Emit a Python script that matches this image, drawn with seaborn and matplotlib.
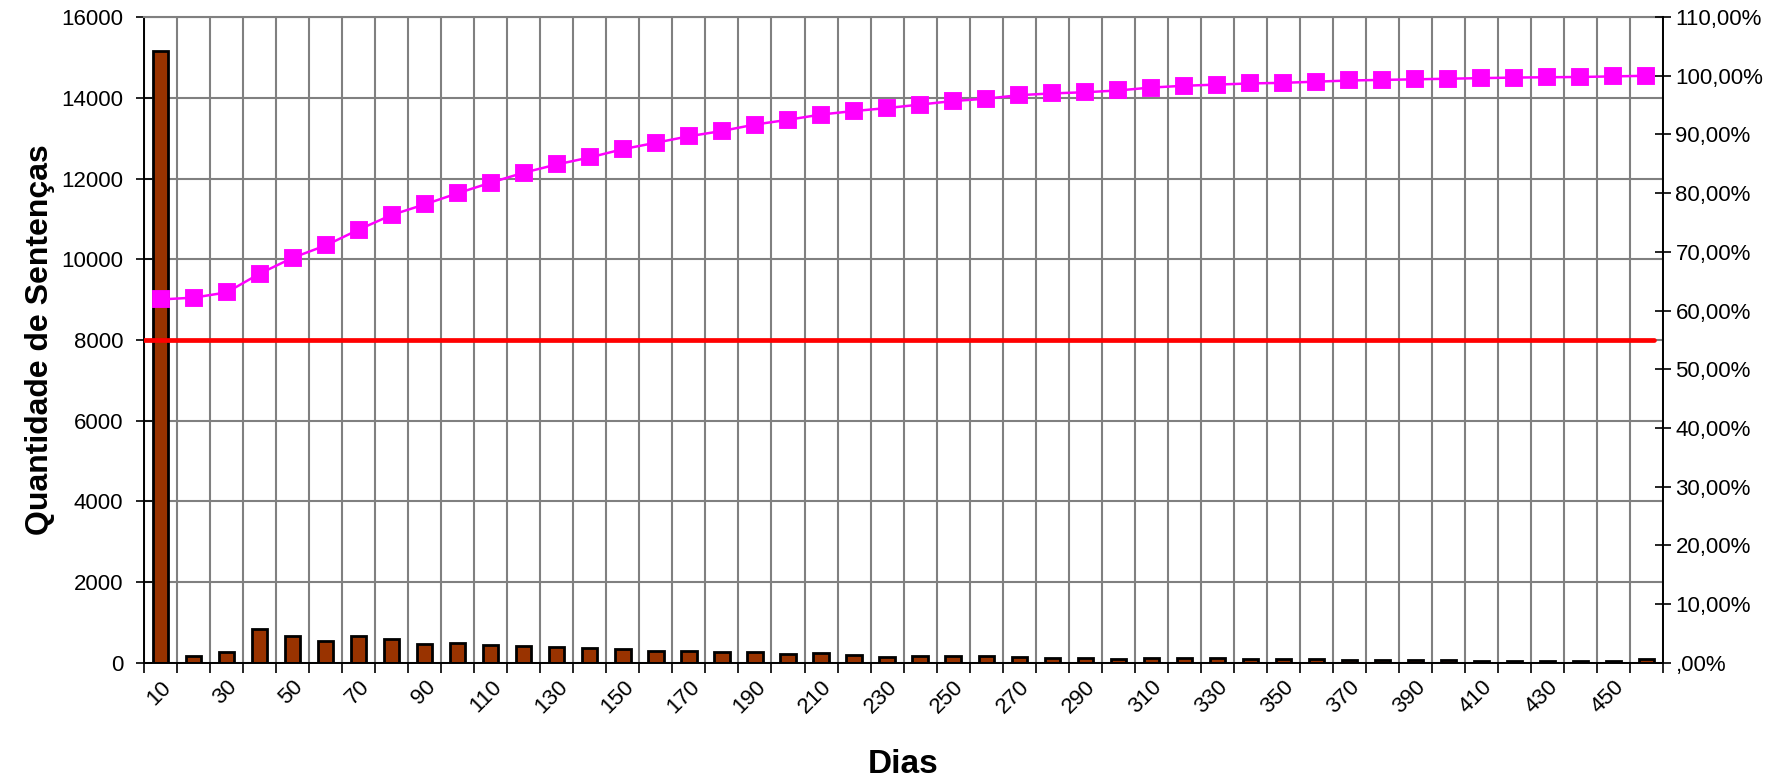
import numpy as np
import pandas as pd
import matplotlib
matplotlib.use("Agg")
import matplotlib.pyplot as plt
import seaborn as sns
from matplotlib.ticker import FuncFormatter

dias = list(range(10, 461, 10))
sentencas = [15150, 170, 265, 825, 660, 545, 660, 595, 470, 495, 445, 410, 390, 355,
             330, 290, 295, 255, 255, 225, 230, 200, 155, 165, 165, 165, 150, 130, 110,
             100, 130, 120, 110, 90, 90, 100, 70, 70, 60, 70, 50, 50, 50, 50, 50, 90]
acumulado = [61.9, 62.2, 63.1, 66.3, 69.0, 71.1, 73.8, 76.3, 78.1, 80.0, 81.8, 83.5,
             84.9, 86.1, 87.5, 88.6, 89.7, 90.6, 91.7, 92.5, 93.4, 94.0, 94.5, 95.1,
             95.7, 96.1, 96.7, 97.0, 97.2, 97.5, 98.0, 98.3, 98.5, 98.7, 98.8, 99.0,
             99.2, 99.3, 99.4, 99.5, 99.6, 99.7, 99.75, 99.8, 99.9, 100.0]
limite = 8000
left_ticks = list(range(0, 16001, 2000))
right_ticks = list(range(0, 111, 10))
x_labels = [str(d) for d in dias[::2]]

sns.set_theme(style="white")
plt.rcParams["font.family"] = ["Liberation Sans", "DejaVu Sans"]
for k in ["text.color", "axes.labelcolor", "xtick.color", "ytick.color"]:
    plt.rcParams[k] = "black"

df = pd.DataFrame({"Dias": dias, "Sentencas": sentencas, "Acum": acumulado})

fig = plt.figure(figsize=(17.71, 7.77), dpi=100)
ax = fig.add_axes([0.0814, 0.147, 0.939 - 0.0814, 0.978 - 0.147])

sns.barplot(data=df, x="Dias", y="Sentencas", ax=ax, color="#993300",
            edgecolor="black", linewidth=2.0, width=0.46, saturation=1, zorder=2)
ax.axhline(limite, xmin=0, xmax=0.994, color="#FF0000", lw=3.4, zorder=5)

ax2 = ax.twinx()
sns.pointplot(data=df, x="Dias", y="Acum", ax=ax2, color="#FF00FF", markers="s",
              markersize=11.5, linewidth=1.8, errorbar=None,
              markeredgecolor="#FF00FF")

n = len(dias)
ax.set_xlim(-0.5, n - 0.5)
ax.set_ylim(0, 16000)
ax2.set_ylim(0, 110)

ax.set_xticks(np.arange(0, n, 2))
ax.set_xticklabels(x_labels, rotation=45, ha="right", va="top",
                   rotation_mode="anchor", fontsize=16)
ax.set_xticks(np.arange(-0.5, n, 1), minor=True)
ax.tick_params(axis="x", which="major", length=0, pad=10)
ax.tick_params(axis="x", which="minor", length=7, width=1.2, color="black",
               direction="out", bottom=True)
ax.grid(False)
ax.grid(which="minor", axis="x", color="#808080", lw=1.5)
ax.set_yticks(left_ticks)
ax.set_yticklabels([str(t) for t in left_ticks], fontsize=16)
ax.grid(which="major", axis="y", color="#808080", lw=1.5)
ax.set_axisbelow(True)
ax.tick_params(axis="y", which="major", direction="inout", length=12, width=1.2,
               color="black", left=True, pad=9)

ax2.set_yticks(right_ticks)
ax2.yaxis.set_major_formatter(FuncFormatter(lambda v, p: f"{int(v)},00%" if v else ",00%"))
ax2.tick_params(axis="y", which="major", direction="inout", length=12, width=1.2,
                color="black", right=True, labelsize=16, pad=3)
ax2.grid(False)

ax.set_xlabel("")
ax.set_ylabel("")
ax2.set_ylabel("")

for s in ["left", "bottom"]:
    ax.spines[s].set_color("black")
    ax.spines[s].set_linewidth(1.4)
ax.spines["top"].set_color("#808080")
ax.spines["top"].set_linewidth(1.5)
ax.spines["right"].set_visible(False)
for s in ["left", "bottom", "top"]:
    ax2.spines[s].set_visible(False)
ax2.spines["right"].set_color("black")
ax2.spines["right"].set_linewidth(1.4)

fig.text(40 / 1771, 0.5625, "Quantidade de Sentenças", rotation=90, ha="center",
         va="center", fontsize=23, fontweight="bold")
fig.text(0.510, 0.016, "Dias", ha="center", va="center", fontsize=24,
         fontweight="bold")

fig.savefig("out.png", dpi=100)
